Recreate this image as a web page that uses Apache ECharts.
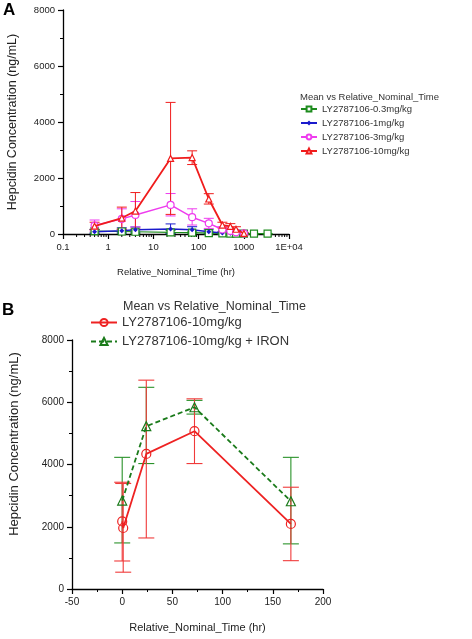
<!DOCTYPE html>
<html><head><meta charset="utf-8">
<script src="https://cdn.jsdelivr.net/npm/echarts@6/dist/echarts.min.js"></script>
<style>html,body{margin:0;padding:0;background:#fff}#c{width:472px;height:639px}</style>
</head><body><div id="c"></div><script>
// ---------- Panel A data ----------
const timesA = [0.5, 2, 4, 24, 72, 168, 336, 504, 672, 1008];
const timesA_green = [0.5, 2, 4, 24, 72, 168, 336, 504, 672, 1008, 1680, 3360];
const green03 = [100, 90, 80, 60, 50, 30, 20, 15, 10, 10, 10, 10];
const green03Lo = [40, 30, 20, 10, 10, 0, 0, 0, 0, 0, 0, 0];
const green03Hi = [170, 160, 150, 120, 100, 70, 40, 30, 20, 20, 20, 20];
const blue1 = [80, 120, 150, 180, 150, 80, 40, 30, 20, 10];
const blue1Lo = [20, 40, 60, 20, 50, 20, 10, 5, 5, 0];
const blue1Hi = [160, 220, 250, 360, 260, 150, 80, 60, 40, 20];
const pink3 = [300, 540, 680, 1040, 600, 380, 160, 110, 60, 20];
const pink3Lo = [100, 150, 250, 645, 320, 200, 80, 40, 20, 0];
const pink3Hi = [500, 900, 1160, 1445, 900, 560, 260, 200, 120, 40];
const red10 = [280, 570, 820, 2700, 2730, 1250, 320, 270, 170, 20];
const red10Lo = [150, 180, 180, 700, 2480, 1070, 220, 170, 80, 0];
const red10Hi = [420, 960, 1480, 4700, 2970, 1440, 420, 370, 260, 40];
const xTickLabelsA = ['0.1', '1', '10', '100', '1000', '1E+04'];
const namesA = ['LY2787106-0.3mg/kg', 'LY2787106-1mg/kg', 'LY2787106-3mg/kg', 'LY2787106-10mg/kg'];

// ---------- Panel B data ----------
const timesB_red = [0, 1, 24, 72, 168];
const redB = [2170, 1960, 4340, 5070, 2090];
const redBLo = [900, 540, 1640, 4030, 910];
const redBHi = [3430, 3390, 6710, 6110, 3270];
const timesB_green = [0, 24, 72, 168];
const greenB = [2840, 5230, 5840, 2820];
const greenBLo = [1480, 4030, 5620, 1450];
const greenBHi = [4230, 6480, 6060, 4230];
const namesB = ['LY2787106-10mg/kg ', 'LY2787106-10mg/kg + IRON'];
const legendTitle = 'Mean vs Relative_Nominal_Time';
const yTitle = 'Hepcidin Concentration (ng/mL)';
const xTitle = 'Relative_Nominal_Time (hr)';

const FONT = 'Liberation Sans';
const C = {green: '#1e8c1e', blue: '#1a1acc', pink: '#ee3cee', red: '#f01c1c', redB: '#ee2222', greenB: '#1a7a1a'};

const pairs = (xs, ys) => xs.map((x, i) => [x, ys[i]]);
const triples = (xs, lo, hi) => xs.map((x, i) => [x, lo[i], hi[i]]);

function errRender(capHalf, color, width) {
  return function (params, api) {
    const x = api.value(0), lo = api.value(1), hi = api.value(2);
    const p1 = api.coord([x, lo]), p2 = api.coord([x, hi]);
    const st = {stroke: color, lineWidth: width};
    return {type: 'group', children: [
      {type: 'line', shape: {x1: p1[0], y1: p1[1], x2: p2[0], y2: p2[1]}, style: st},
      {type: 'line', shape: {x1: p1[0] - capHalf, y1: p1[1], x2: p1[0] + capHalf, y2: p1[1]}, style: st},
      {type: 'line', shape: {x1: p2[0] - capHalf, y1: p2[1], x2: p2[0] + capHalf, y2: p2[1]}, style: st}
    ]};
  };
}
function errSeries(xi, yi, data, capHalf, color, width, z) {
  return {type: 'custom', xAxisIndex: xi, yAxisIndex: yi, data: data, renderItem: errRender(capHalf, color, width),
    encode: {x: 0, y: [1, 2]}, silent: true, z: z || 1, clip: false};
}

// log-axis minor ticks (axis decoration)
const minorLog = [];
for (let e = -1; e < 4; e++) for (let k = 2; k <= 9; k++) minorLog.push([k * Math.pow(10, e), 0]);

const axisLineStyle = {color: '#000', width: 1.3};
const labelStyle = (fs) => ({color: '#222', fontFamily: FONT, fontSize: fs});
const plain = v => String(v);

const option = {
  animation: false,
  backgroundColor: '#fff',
  grid: [
    {left: 63, top: 10, width: 226, height: 224},
    {left: 72, top: 340, width: 251, height: 249}
  ],
  xAxis: [
    {gridIndex: 0, type: 'log', logBase: 10, min: 0.1, max: 10000,
      axisLine: {lineStyle: axisLineStyle}, axisTick: {length: 5, lineStyle: {color: '#000', width: 1.2}},
      splitLine: {show: false},
      axisLabel: Object.assign(labelStyle(9.5), {margin: 8, formatter: v => xTickLabelsA[Math.round(Math.log10(v)) + 1]}),
      name: xTitle, nameLocation: 'middle', nameGap: 33, nameTextStyle: labelStyle(9.5)},
    {gridIndex: 1, type: 'value', min: -50, max: 200, interval: 50,
      axisLine: {onZero: false, lineStyle: axisLineStyle}, axisTick: {length: 5, lineStyle: {color: '#000', width: 1.2}},
      minorTick: {show: true, splitNumber: 2, length: 3, lineStyle: {color: '#000', width: 1}},
      splitLine: {show: false},
      axisLabel: Object.assign(labelStyle(10), {margin: 8, formatter: plain}),
      name: xTitle, nameLocation: 'middle', nameGap: 33, nameTextStyle: labelStyle(11)}
  ],
  yAxis: [
    {gridIndex: 0, type: 'value', min: 0, max: 8000, interval: 2000,
      axisLine: {show: true, onZero: false, lineStyle: axisLineStyle}, axisTick: {show: true, length: 5, lineStyle: {color: '#000', width: 1.2}},
      minorTick: {show: true, splitNumber: 2, length: 3, lineStyle: {color: '#000', width: 1}},
      splitLine: {show: false},
      axisLabel: Object.assign(labelStyle(9.5), {margin: 8, formatter: plain}),
      name: yTitle, nameLocation: 'middle', nameGap: 44, nameTextStyle: labelStyle(12.5)},
    {gridIndex: 1, type: 'value', min: 0, max: 8000, interval: 2000,
      axisLine: {show: true, onZero: false, lineStyle: axisLineStyle}, axisTick: {show: true, length: 5, lineStyle: {color: '#000', width: 1.2}},
      minorTick: {show: true, splitNumber: 2, length: 3, lineStyle: {color: '#000', width: 1}},
      splitLine: {show: false},
      axisLabel: Object.assign(labelStyle(10), {margin: 8, formatter: plain})}
  ],
  legend: [
    {data: namesA, orient: 'vertical', left: 300, top: 104, itemWidth: 16, itemHeight: 6, itemGap: 4,
      textStyle: {fontFamily: FONT, fontSize: 9.5, color: '#333'}, padding: 0, selectedMode: false},
    {data: namesB, orient: 'vertical', left: 90, top: 316, itemWidth: 26, itemHeight: 9, itemGap: 6,
      textStyle: {fontFamily: FONT, fontSize: 13, color: '#333'}, padding: 0, selectedMode: false}
  ],
  graphic: [
    {type: 'text', left: 3, top: 2, style: {text: 'A', font: 'bold 17px ' + FONT, fill: '#000'}},
    {type: 'text', left: 2, top: 302, style: {text: 'B', font: 'bold 17px ' + FONT, fill: '#000'}},
    {type: 'text', left: 300, top: 92, style: {text: legendTitle, font: '9.5px ' + FONT, fill: '#333'}},
    {type: 'text', left: 123, top: 300, style: {text: legendTitle, font: '12.5px ' + FONT, fill: '#333'}},
    {type: 'text', x: 14, y: 444, rotation: Math.PI / 2,
      style: {text: yTitle, font: '13px ' + FONT, fill: '#222', align: 'center', verticalAlign: 'middle'}}
  ],
  series: [
    // minor ticks on log axis
    {type: 'custom', xAxisIndex: 0, yAxisIndex: 0, data: minorLog, silent: true, clip: false,
      renderItem: (p, api) => { const c = api.coord([api.value(0), 0]);
        return {type: 'line', shape: {x1: c[0], y1: c[1], x2: c[0], y2: c[1] + 3}, style: {stroke: '#000', lineWidth: 1}}; }},
    // Panel A error bars
    errSeries(0, 0, triples(timesA_green, green03Lo, green03Hi), 5, C.green, 1),
    errSeries(0, 0, triples(timesA, blue1Lo, blue1Hi), 5, C.blue, 1),
    errSeries(0, 0, triples(timesA, pink3Lo, pink3Hi), 5, C.pink, 1),
    errSeries(0, 0, triples(timesA, red10Lo, red10Hi), 5, C.red, 1),
    // Panel A lines
    {name: namesA[0], type: 'line', xAxisIndex: 0, yAxisIndex: 0, data: pairs(timesA_green, green03),
      symbol: 'rect', symbolSize: 7, itemStyle: {color: '#fff', borderColor: C.green, borderWidth: 1.2},
      lineStyle: {color: C.green, width: 1.2}, color: C.green, z: 3},
    {name: namesA[1], type: 'line', xAxisIndex: 0, yAxisIndex: 0, data: pairs(timesA, blue1),
      symbol: 'diamond', symbolSize: 5, itemStyle: {color: C.blue}, lineStyle: {color: C.blue, width: 1.5}, color: C.blue, z: 3},
    {name: namesA[2], type: 'line', xAxisIndex: 0, yAxisIndex: 0, data: pairs(timesA, pink3),
      symbol: 'circle', symbolSize: 7, itemStyle: {color: '#fff', borderColor: C.pink, borderWidth: 1.2},
      lineStyle: {color: C.pink, width: 1.5}, color: C.pink, z: 3},
    {name: namesA[3], type: 'line', xAxisIndex: 0, yAxisIndex: 0, data: pairs(timesA, red10),
      symbol: 'triangle', symbolSize: 6, itemStyle: {color: '#fff', borderColor: C.red, borderWidth: 1.2},
      lineStyle: {color: C.red, width: 1.8}, color: C.red, z: 4},
    // Panel B error bars
    errSeries(1, 1, triples(timesB_green, greenBLo, greenBHi), 8, '#2a922a', 1.1),
    errSeries(1, 1, triples(timesB_red, redBLo, redBHi), 8, '#f03a3a', 1.1),
    // Panel B lines
    {name: namesB[0], type: 'line', xAxisIndex: 1, yAxisIndex: 1, data: pairs(timesB_red, redB),
      symbol: 'circle', symbolSize: 9, itemStyle: {color: 'rgba(255,255,255,0)', borderColor: C.redB, borderWidth: 1.2},
      lineStyle: {color: C.redB, width: 1.8}, color: C.redB, z: 4},
    {name: namesB[1], type: 'line', xAxisIndex: 1, yAxisIndex: 1, data: pairs(timesB_green, greenB),
      symbol: 'triangle', symbolSize: 9, itemStyle: {color: 'rgba(255,255,255,0)', borderColor: C.greenB, borderWidth: 1.2},
      lineStyle: {color: C.greenB, width: 1.8, type: [5, 3]}, color: C.greenB, z: 3}
  ]
};
const chart = echarts.init(document.getElementById('c'), null, {renderer: 'canvas'});
chart.setOption(option);
</script></body></html>
